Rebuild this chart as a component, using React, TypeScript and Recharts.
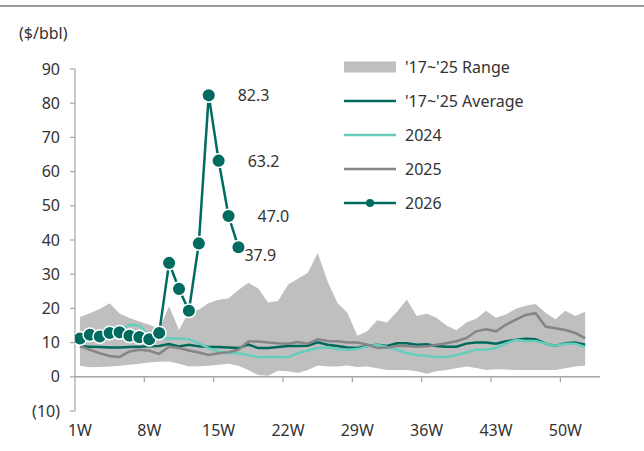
import React from 'react';
import {
  ComposedChart,
  Area,
  Line,
  XAxis,
  YAxis,
  ReferenceLine,
  LabelList,
  Legend,
} from 'recharts';

// ---- data ----
const weeks = [
  1, 2, 3, 4, 5, 6, 7, 8, 9, 10, 11, 12, 13, 14, 15, 16, 17, 18, 19, 20, 21, 22, 23, 24, 25, 26,
  27, 28, 29, 30, 31, 32, 33, 34, 35, 36, 37, 38, 39, 40, 41, 42, 43, 44, 45, 46, 47, 48, 49, 50, 51, 52,
];

const rangeHigh = [
  17.5, 18.6, 19.8, 21.5, 18.5, 17.2, 16.2, 15.2, 14.0, 20.6, 13.7, 19.1, 19.6, 21.6, 22.5, 23.0, 25.4,
  27.5, 25.8, 21.7, 22.2, 26.9, 28.7, 30.4, 36.2, 27.9, 21.6, 18.7, 12.0, 13.3, 16.5, 15.9, 19.0, 22.5,
  17.8, 18.4, 17.3, 15.0, 13.6, 15.9, 17.0, 19.3, 17.3, 18.2, 19.9, 20.8, 21.3, 18.7, 16.8, 19.3, 17.8, 19.0,
];

const rangeLow = [
  3.2, 2.8, 2.9, 3.0, 3.2, 3.5, 3.8, 4.2, 4.4, 4.5, 3.8, 3.0, 3.1, 3.2, 3.5, 3.8, 3.2, 2.0, 0.5, 0.3,
  1.8, 1.6, 1.1, 2.0, 3.3, 3.0, 3.0, 3.3, 2.9, 3.0, 2.5, 2.0, 2.0, 2.0, 1.6, 0.9, 1.6, 2.0, 2.5, 3.0,
  2.6, 2.0, 2.2, 2.1, 2.0, 2.0, 2.0, 2.0, 2.0, 2.5, 3.0, 3.2,
];

const avg1725 = [
  8.9, 8.8, 8.7, 8.6, 8.6, 8.7, 8.8, 8.9, 9.0, 9.6, 8.9, 9.4, 8.9, 8.7, 8.7, 8.6, 8.4, 9.4, 8.4, 8.4,
  8.7, 9.0, 9.0, 9.1, 10.1, 9.4, 9.0, 8.6, 8.4, 9.0, 9.4, 9.0, 9.8, 9.8, 9.4, 9.5, 9.0, 8.8, 8.8, 9.7,
  10.0, 10.0, 9.7, 10.4, 10.8, 11.1, 11.0, 9.7, 9.0, 9.8, 10.0, 9.4,
];

const y2024 = [
  10.5, 11.2, 11.8, 12.3, 13.5, 15.2, 15.0, 12.0, 11.2, 11.3, 11.2, 11.0, 9.8, 8.4, 7.4, 6.9, 6.9, 6.4,
  5.7, 5.8, 5.8, 5.7, 6.9, 7.7, 8.4, 8.6, 8.1, 7.9, 8.1, 8.9, 9.4, 8.7, 7.9, 6.9, 6.4, 6.1, 5.8, 5.8,
  6.4, 7.1, 7.9, 7.9, 8.4, 9.8, 10.8, 10.5, 10.5, 9.7, 9.0, 9.7, 9.7, 8.7,
];

const y2025 = [
  8.9, 7.9, 6.9, 6.1, 5.8, 7.4, 7.9, 7.6, 6.7, 8.8, 8.4, 7.7, 7.1, 6.4, 6.9, 7.2, 7.9, 10.3, 10.3, 10.0,
  9.8, 9.7, 10.2, 9.7, 11.0, 10.5, 10.4, 10.0, 10.0, 9.4, 8.4, 8.6, 9.0, 9.0, 8.8, 8.9, 9.4, 9.8, 10.4,
  11.3, 13.3, 13.9, 13.3, 15.2, 16.7, 18.1, 18.6, 14.7, 14.2, 13.7, 12.8, 11.3,
];

const y2026 = [
  11.2, 12.3, 11.8, 12.8, 13.0, 12.0, 11.6, 11.0, 12.8, 33.3, 25.7, 19.3, 39.0, 82.3, 63.2, 47.0, 37.9,
];

const xTicks = [1, 8, 15, 22, 29, 36, 43, 50];
const yTicks = [-10, 0, 10, 20, 30, 40, 50, 60, 70, 80, 90];
const labeledWeeks = [14, 15, 16, 17];

// ---- styles ----
const C_RANGE = '#bfbfbf';
const C_AVG = '#00695c';
const C_2024 = '#66cdbd';
const C_2025 = '#858585';
const C_2026 = '#006b5e';
const C_AXIS = '#a6a6a6';
const C_TEXT = '#333333';
const FONT = "'Noto Sans', 'Open Sans', sans-serif";

const labelOffset: Record<number, { dx: number; dy: number }> = {
  14: { dx: 29, dy: 0 },
  15: { dx: 29, dy: 0 },
  16: { dx: 29, dy: 0 },
  17: { dx: 6, dy: 8 },
};

const data = weeks.map((w, i) => ({
  week: w,
  range: [rangeLow[i], rangeHigh[i]],
  avg: avg1725[i],
  y2024: y2024[i],
  y2025: y2025[i],
  y2026: i < y2026.length ? y2026[i] : null,
}));

const fmtY = (v: number) => (v < 0 ? `(${Math.abs(v)})` : `${v}`);

const Dot2026 = (props: any) => {
  const { cx, cy, value, index } = props;
  if (value == null || cx == null || cy == null) return <g key={`d${index}`} />;
  return (
    <circle key={`d${index}`} cx={cx} cy={cy} r={6.8} fill={C_2026} stroke="#ffffff" strokeWidth={1.5} />
  );
};

const renderLabel = (props: any) => {
  const { x, y, value, index } = props;
  const wk = weeks[index];
  if (value == null || !labeledWeeks.includes(wk)) return null;
  const off = labelOffset[wk];
  return (
    <text
      key={`l${index}`}
      x={x + off.dx}
      y={y + off.dy}
      dominantBaseline="central"
      fontSize={16}
      fill={C_TEXT}
      fontFamily={FONT}
    >
      {Number(value).toFixed(1)}
    </text>
  );
};

const legendItems = [
  { name: "'17~'25 Range", kind: 'rect', color: C_RANGE },
  { name: "'17~'25 Average", kind: 'line', color: C_AVG },
  { name: '2024', kind: 'line', color: C_2024 },
  { name: '2025', kind: 'line', color: C_2025 },
  { name: '2026', kind: 'dot', color: C_2026 },
];

const LegendContent = () => (
  <div style={{ fontFamily: FONT, fontSize: 16, color: C_TEXT }}>
    {legendItems.map((it) => (
      <div key={it.name} style={{ display: 'flex', alignItems: 'center', height: 34 }}>
        <svg width={58} height={16} style={{ marginRight: 4 }}>
          {it.kind === 'rect' && <rect x={1} y={2.5} width={52} height={11} fill={it.color} />}
          {it.kind !== 'rect' && <line x1={1} y1={8} x2={53} y2={8} stroke={it.color} strokeWidth={2.5} />}
          {it.kind === 'dot' && <circle cx={27} cy={8} r={4} fill={it.color} />}
        </svg>
        <span>{it.name}</span>
      </div>
    ))}
  </div>
);

export default function App() {
  return (
    <div
      style={{
        position: 'fixed',
        left: 0,
        top: 0,
        width: 644,
        height: 451,
        background: '#ffffff',
        fontFamily: FONT,
        overflow: 'hidden',
      }}
    >
      <div style={{ position: 'absolute', left: 0, top: 5, width: 644, height: 0, borderTop: '2.5px solid #9a9a9a' }} />
      <div
        style={{
          position: 'absolute',
          left: 19,
          top: 22,
          fontSize: 16,
          color: C_TEXT,
          lineHeight: '22px',
        }}
      >
        ($/bbl)
      </div>
      <ComposedChart
        width={644}
        height={451}
        data={data}
        margin={{ top: 69, right: 44, left: 15, bottom: 10 }}
      >
        <XAxis
          type="number"
          dataKey="week"
          domain={[0.5, 53.5]}
          ticks={xTicks}
          interval={0}
          allowDataOverflow
          tickFormatter={(w: number) => `${w}W`}
          axisLine={false}
          tickLine={false}
          tickSize={6}
          tickMargin={8}
          height={30}
          tick={{ fill: C_TEXT, fontSize: 16 }}
        />
        <YAxis
          type="number"
          domain={[-10, 90]}
          ticks={yTicks}
          interval={0}
          tickFormatter={fmtY}
          axisLine={{ stroke: C_AXIS, strokeWidth: 1.2 }}
          tickLine={{ stroke: C_AXIS, strokeWidth: 1.2 }}
          tickSize={5}
          tickMargin={10}
          width={60}
          tick={{ fill: C_TEXT, fontSize: 16 }}
        />
        <Area
          dataKey="range"
          name="'17~'25 Range"
          fill={C_RANGE}
          fillOpacity={1}
          stroke="none"
          isAnimationActive={false}
          activeDot={false}
        />
        <ReferenceLine y={0} stroke={C_AXIS} strokeWidth={1.5} />
        {xTicks
          .filter((t) => t > 1)
          .map((t) => (
            <ReferenceLine
              key={`tm${t}`}
              segment={[
                { x: t - 0.5, y: 0 },
                { x: t - 0.5, y: -1.6 },
              ]}
              stroke={C_AXIS}
              strokeWidth={1.2}
              ifOverflow="visible"
            />
          ))}
        <Line
          dataKey="avg"
          name="'17~'25 Average"
          stroke={C_AVG}
          strokeWidth={2.5}
          dot={false}
          activeDot={false}
          isAnimationActive={false}
        />
        <Line
          dataKey="y2024"
          name="2024"
          stroke={C_2024}
          strokeWidth={2.5}
          dot={false}
          activeDot={false}
          isAnimationActive={false}
        />
        <Line
          dataKey="y2025"
          name="2025"
          stroke={C_2025}
          strokeWidth={2.5}
          dot={false}
          activeDot={false}
          isAnimationActive={false}
        />
        <Line
          dataKey="y2026"
          name="2026"
          stroke={C_2026}
          strokeWidth={2.5}
          dot={Dot2026}
          activeDot={false}
          isAnimationActive={false}
        >
          <LabelList dataKey="y2026" content={renderLabel} />
        </Line>
        <Legend
          layout="horizontal"
          verticalAlign="middle"
          align="center"
          content={LegendContent}
          wrapperStyle={{ position: 'absolute', left: 343, top: 50, width: 260, height: 170 }}
        />
      </ComposedChart>
    </div>
  );
}
